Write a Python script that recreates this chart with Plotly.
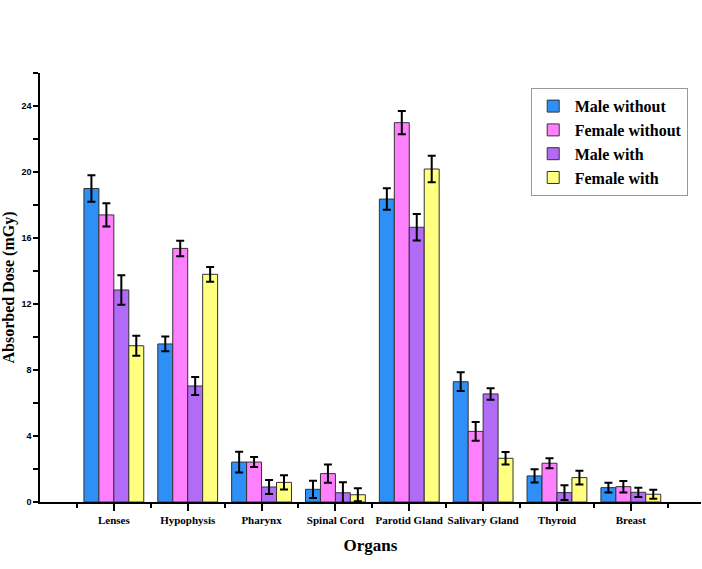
import plotly.graph_objects as go

organs = ["Lenses", "Hypophysis", "Pharynx", "Spinal Cord", "Parotid Gland",
          "Salivary Gland", "Thyroid", "Breast"]
series_names = ["Male without", "Female without", "Male with", "Female with"]
male_without = [19.0, 9.58, 2.42, 0.77, 18.36, 7.29, 1.58, 0.87]
male_without_err = [0.8, 0.45, 0.63, 0.52, 0.65, 0.57, 0.4, 0.3]
female_without = [17.4, 15.37, 2.42, 1.72, 22.99, 4.28, 2.35, 0.93]
female_without_err = [0.7, 0.47, 0.3, 0.55, 0.7, 0.57, 0.3, 0.35]
male_with = [12.85, 7.03, 0.91, 0.56, 16.65, 6.55, 0.57, 0.59]
male_with_err = [0.9, 0.55, 0.42, 0.63, 0.8, 0.35, 0.45, 0.28]
female_with = [9.47, 13.8, 1.19, 0.44, 20.18, 2.65, 1.48, 0.47]
female_with_err = [0.6, 0.45, 0.43, 0.4, 0.8, 0.38, 0.42, 0.27]
y_ticks = [0, 4, 8, 12, 16, 20, 24]

colors = ["#2E8FF6", "#FF80FF", "#B26BF6", "#FFFF80"]
values = [male_without, female_without, male_with, female_with]
errors = [male_without_err, female_without_err, male_with_err, female_with_err]

xpos = list(range(len(organs)))
serif = "Liberation Serif"

fig = go.Figure()
for name, v, e, c in zip(series_names, values, errors, colors):
    fig.add_trace(go.Bar(
        x=xpos, y=v, name=name,
        marker=dict(color=c, line=dict(color="#333333", width=1)),
        error_y=dict(type="data", array=e, visible=True, color="black",
                     thickness=2, width=4),
    ))

fig.update_layout(
    width=702, height=569,
    font=dict(family=serif),
    paper_bgcolor="white", plot_bgcolor="white",
    margin=dict(l=40, r=1, t=73, b=67, autoexpand=False),
    barmode="group", bargap=0.19, bargroupgap=0,
    legend=dict(
        xref="container", yref="container",
        x=0.756, y=0.845, xanchor="left", yanchor="top",
        bgcolor="white", bordercolor="#999999", borderwidth=1,
        font=dict(family=serif, size=16, color="black", weight="bold"),
        itemwidth=33, tracegroupgap=0,
    ),
    xaxis=dict(
        range=[-1, 7.95],
        tickmode="array", tickvals=xpos, ticktext=organs,
        ticks="outside", ticklen=7, tickwidth=1.5, tickcolor="black",
        showline=True, linecolor="black", linewidth=1.5,
        showgrid=False, zeroline=False,
        tickfont=dict(family=serif, size=11, color="black", weight="bold"),
        minor=dict(tickmode="linear", tick0=-0.5, dtick=1, ticks="outside",
                   ticklen=4, tickwidth=1.5, tickcolor="black", showgrid=False),
        title=dict(text="Organs", standoff=14,
                   font=dict(family=serif, size=17, color="black", weight="bold")),
    ),
    yaxis=dict(
        range=[0, 26],
        tickmode="array", tickvals=y_ticks,
        ticks="outside", ticklen=5, tickwidth=1.5, tickcolor="black",
        showline=True, linecolor="black", linewidth=1.5,
        showgrid=False, zeroline=False,
        tickfont=dict(family="Liberation Sans", size=9,
                      color="black", weight="bold"),
        minor=dict(tickmode="linear", tick0=2, dtick=4, ticks="outside",
                   ticklen=5, tickwidth=1.5, tickcolor="black", showgrid=False),
        title=dict(text="Absorbed Dose (mGy)", standoff=6,
                   font=dict(family=serif, size=16, color="black", weight="bold")),
    ),
)

fig.write_html("out.html")
